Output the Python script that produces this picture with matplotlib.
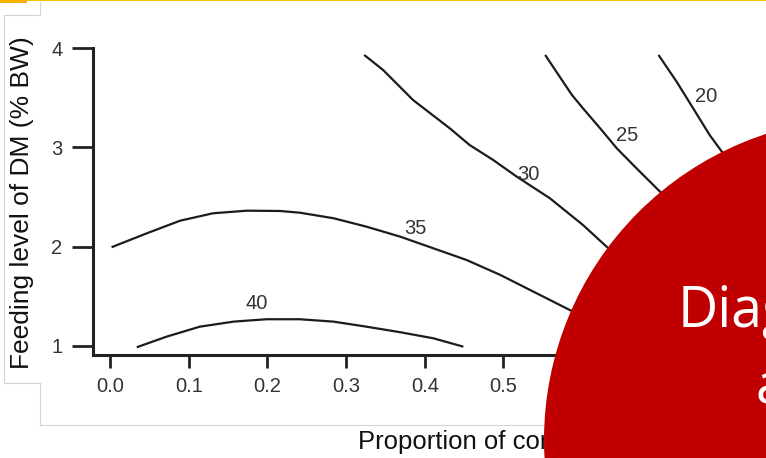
import matplotlib
matplotlib.use("Agg")
import matplotlib.pyplot as plt
from matplotlib.patches import Circle, Rectangle
from matplotlib.lines import Line2D

# ---------------- data ----------------
x_ticks = [0.0, 0.1, 0.2, 0.3, 0.4, 0.5, 0.6, 0.7, 0.8]
x_tick_labels = ["0.0", "0.1", "0.2", "0.3", "0.4", "0.5", "0.6", "0.7", "0.8"]
y_ticks = [1, 2, 3, 4]
y_tick_labels = ["1", "2", "3", "4"]

x40 = [0.034, 0.072, 0.114, 0.157, 0.199, 0.241, 0.284, 0.326, 0.369, 0.411, 0.449]
y40 = [0.987, 1.094, 1.194, 1.245, 1.269, 1.269, 1.245, 1.194, 1.138, 1.077, 0.993]

x35 = [0.002, 0.047, 0.089, 0.131, 0.174, 0.216, 0.241, 0.284, 0.326, 0.369, 0.411,
       0.453, 0.496, 0.538, 0.580, 0.620]
y35 = [1.994, 2.135, 2.261, 2.336, 2.362, 2.359, 2.342, 2.286, 2.201, 2.100, 1.983,
       1.866, 1.715, 1.547, 1.379, 1.22]

x30 = [0.323, 0.347, 0.385, 0.432, 0.457, 0.487, 0.517, 0.559, 0.601, 0.631, 0.66]
y30 = [3.930, 3.779, 3.477, 3.190, 3.023, 2.872, 2.704, 2.487, 2.218, 2.000, 1.80]

x25 = [0.553, 0.570, 0.587, 0.601, 0.623, 0.644, 0.669, 0.699, 0.72]
y25 = [3.930, 3.728, 3.527, 3.393, 3.190, 2.990, 2.789, 2.553, 2.38]

x20 = [0.697, 0.720, 0.741, 0.762, 0.779, 0.80]
y20 = [3.930, 3.661, 3.393, 3.124, 2.940, 2.70]

contour_x = [x40, x35, x30, x25, x20]
contour_y = [y40, y35, y30, y25, y20]

label_text = ["40", "35", "30", "25", "20"]
label_x = [0.1864, 0.3875, 0.5315, 0.6565, 0.7573]
label_y = [1.43, 2.185, 2.728, 3.124, 3.51]

y_axis_title = "Feeding level of DM (% BW)"
x_axis_title = "Proportion of concentrate in diet"
overlay_line1 = "Diag"
overlay_line2 = "a"

# ---------------- figure ----------------
W, H = 766, 458
fig = plt.figure(figsize=(W / 100, H / 100), dpi=100)
fig.patch.set_facecolor("white")
font = ["Liberation Sans", "DejaVu Sans"]

ax = fig.add_axes([93 / W, 103 / H, (W - 93) / W, (458 - 48 - 103) / H])
ax.set_xlim(-0.0216, 0.8336)
ax.set_ylim(0.909, 4.0)
ax.set_facecolor("none")

for c_x, c_y in zip(contour_x, contour_y):
    ax.plot(c_x, c_y, color="#1c1c1c", lw=1.6, solid_capstyle="butt",
            solid_joinstyle="round", clip_on=False)

for t, lx, ly in zip(label_text, label_x, label_y):
    ax.text(lx, ly, t, ha="center", va="center", fontsize=14.5, color="#333333",
            family=font)

for side in ["top", "right"]:
    ax.spines[side].set_visible(False)
for side in ["left", "bottom"]:
    ax.spines[side].set_linewidth(2.2)
    ax.spines[side].set_color("#222222")

ax.set_xticks(x_ticks)
ax.set_xticklabels(x_tick_labels, family=font)
ax.set_yticks(y_ticks)
ax.set_yticklabels(y_tick_labels, family=font)
ax.tick_params(axis="x", direction="out", length=9, width=2.0, color="#222222",
               labelsize=14.5, labelcolor="#333333", pad=7)
ax.tick_params(axis="y", direction="out", length=15, width=2.0, color="#222222",
               labelsize=14.5, labelcolor="#333333", pad=7)

# axis titles
fig.text(22 / W, (H - 203) / H, y_axis_title, rotation=90, ha="center", va="center",
         fontsize=19, color="#111111", family=font, zorder=3)
fig.text(358 / W, (H - 442) / H, x_axis_title, ha="left", va="center",
         fontsize=18.5, color="#111111", family=font, zorder=3)

# slide decorations (in pixel-like inches)
tr = fig.dpi_scale_trans
def px(x, y):
    return x / 100, (H - y) / 100

gray = "#d4d4d4"
segs = [((40, 2), (40, 15)), ((4, 15), (40, 15)), ((4, 15), (4, 383)),
        ((4, 383), (40, 383)), ((40, 383), (40, 425)), ((40, 425), (560, 425))]
for (a, b) in segs:
    (x0, y0), (x1, y1) = px(*a), px(*b)
    fig.add_artist(Line2D([x0, x1], [y0, y1], transform=tr, color=gray, lw=0.8, zorder=2))

fig.add_artist(Rectangle((0, (H - 1.5) / 100), W / 100, 0.015, transform=tr,
                         facecolor="#FFC000", edgecolor="none", zorder=4))
fig.add_artist(Rectangle((0, (H - 2.5) / 100), 0.27, 0.025, transform=tr,
                         facecolor="#F5B000", edgecolor="none", zorder=4))

# red overlay circle
cx, cy = px(866, 440)
fig.add_artist(Circle((cx, cy), 3.22, transform=tr, facecolor="#C00000",
                      edgecolor="none", zorder=5))
tx, ty = px(678, 327)
fig.text(tx / (W / 100), ty / (H / 100), overlay_line1, ha="left", va="baseline",
         fontsize=40, color="white", family=["Open Sans", "DejaVu Sans"], zorder=6)
tx, ty = px(755, 403)
fig.text(tx / (W / 100), ty / (H / 100), overlay_line2, ha="left", va="baseline",
         fontsize=40, color="white", family=["Open Sans", "DejaVu Sans"], zorder=6)

fig.savefig("out.png", dpi=100)
